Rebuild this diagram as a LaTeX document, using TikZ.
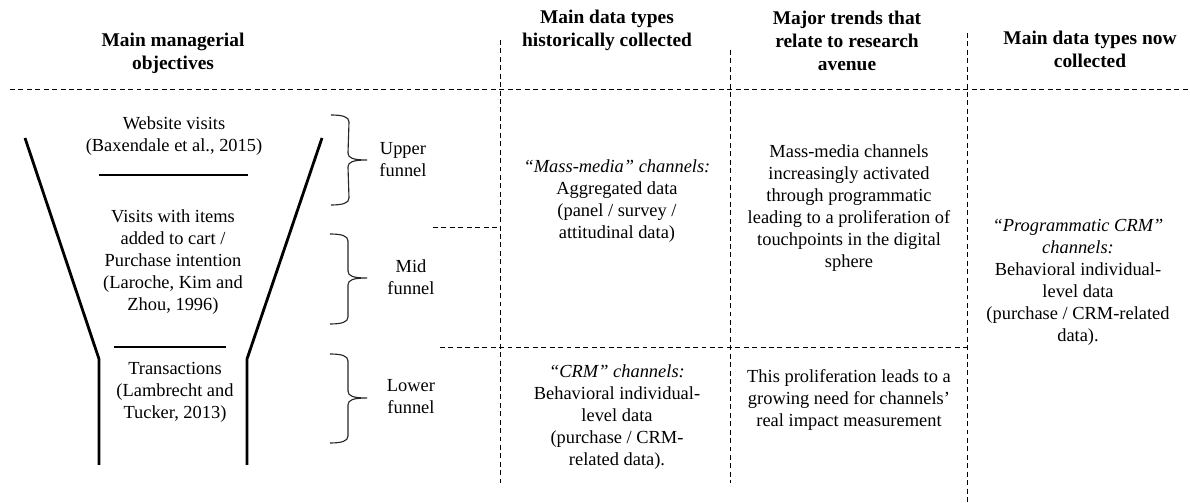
\documentclass[tikz,border=0pt]{standalone}
\usepackage{fontspec}
\setmainfont{Liberation Serif}
\usetikzlibrary{calc}

\begin{document}
\begin{tikzpicture}[x=0.025cm,y=-0.025cm,
  hdr/.style={align=center,inner sep=0pt,font=\fontsize{13.8}{16.4}\selectfont\bfseries},
  txt/.style={align=center,inner sep=0pt,font=\fontsize{13.1}{15.6}\selectfont},
  grid/.style={dash pattern=on 3.5pt off 2.5pt,line width=0.6pt},
  wall/.style={line width=2pt},
  level/.style={line width=1pt},
  bracepen/.style={line width=0.8pt,black!85}]
\useasboundingbox (0,0) rectangle (1190,503);

\node[hdr] (hdrObj) at (173,53) {Main managerial\\objectives};
\node[hdr] (hdrHist) at (607,30) {Main data types\\historically collected};
\node[hdr] (hdrTrend) at (847,41) {Major trends that\\relate to research\\avenue};
\node[hdr] (hdrNow) at (1090,49) {Main data types now\\collected};

\node[txt] (obj1) at (174,136) {Website visits\\(Baxendale et al., 2015)};
\node[txt] (obj2) at (173,262) {Visits with items\\added to cart /\\Purchase intention\\(Laroche, Kim and\\Zhou, 1996)};
\node[txt] (obj3) at (175,392) {Transactions\\(Lambrecht and\\Tucker, 2013)};

\node[txt] (upper) at (403,160) {Upper\\funnel};
\node[txt] (mid) at (411,277) {Mid\\funnel};
\node[txt] (lower) at (411,397) {Lower\\funnel};

\node[txt] (hist1) at (617,201) {\textit{“Mass-media” channels:}\\Aggregated data\\(panel / survey /\\attitudinal data)};
\node[txt] (hist2) at (617,417) {\textit{“CRM” channels:}\\Behavioral individual-\\level data\\(purchase / CRM-\\related data).};
\node[txt] (trend1) at (849,208) {Mass-media channels\\increasingly activated\\through programmatic\\leading to a proliferation of\\touchpoints in the digital\\sphere};
\node[txt] (trend2) at (849,400) {This proliferation leads to a\\growing need for channels’\\real impact measurement};
\node[txt] (now1) at (1078,282) {\textit{“Programmatic CRM”}\\\textit{channels:}\\Behavioral individual-\\level data\\(purchase / CRM-related\\data).};

% funnel
\draw[wall] (25,138) -- (99,359) -- (99,465);
\draw[wall] (322,138) -- (247,359) -- (247,465);
\draw[level] (99,175) -- (248,175);
\draw[level] (114,347) -- (226,347);

% braces: top / tip / bottom
\coordinate (ub1) at (331,115);
\coordinate (ubt) at (367,160);
\coordinate (ub2) at (331,205);
\coordinate (mb1) at (330,234);
\coordinate (mbt) at (367,278);
\coordinate (mb2) at (330,324);
\coordinate (lb1) at (330,354);
\coordinate (lbt) at (367,398);
\coordinate (lb2) at (330,443);
\foreach \t/\p/\b in {ub1/ubt/ub2,mb1/mbt/mb2,lb1/lbt/lb2}
  \draw[bracepen] (\t) .. controls +(12,0) and +(0,-5) .. ($(\t)+(18,7)$)
    -- ($(\p)+(-19,-7)$) .. controls +(0,5) and +(-14,0) .. (\p)
    .. controls +(-14,0) and +(0,-5) .. ($(\p)+(-19,7)$)
    -- ($(\b)+(18,-7)$) .. controls +(0,5) and +(12,0) .. (\b);

% grid
\coordinate (hl) at (10,89);
\coordinate (hr) at (1190,89);
\coordinate (v1t) at (500,40);
\coordinate (v1b) at (500,483);
\coordinate (v2t) at (730,50);
\coordinate (v2b) at (730,483);
\coordinate (v3t) at (967,33);
\coordinate (v3b) at (967,503);
\coordinate (m1) at (433,227);
\coordinate (m2) at (500,227);
\coordinate (l1) at (440,347);
\coordinate (l2) at (967,347);
\draw[grid] (hl) -- (hr);
\draw[grid] (v1t) -- (v1b);
\draw[grid] (v2t) -- (v2b);
\draw[grid] (v3t) -- (v3b);
\draw[grid] (m1) -- (m2);
\draw[grid] (l1) -- (l2);
\end{tikzpicture}
\end{document}
